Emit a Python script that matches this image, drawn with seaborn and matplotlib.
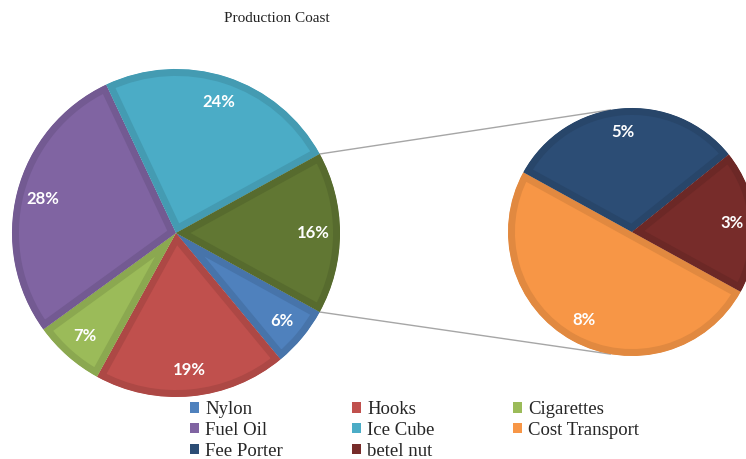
import numpy as np
import matplotlib
matplotlib.use("Agg")
import matplotlib.pyplot as plt
import matplotlib.colors as mcolors
from matplotlib.patches import Patch
import seaborn as sns

# Main pie: the last slice groups the three minor costs shown in the side pie
main_labels = ["Nylon", "Hooks", "Cigarettes", "Fuel Oil", "Ice Cube", "Other"]
main_values = [6, 19, 7, 28, 24, 16]
main_colors = ["#4F81BD", "#C0504D", "#9BBB59", "#8064A2", "#4BACC6", "#617733"]

# Breakdown of the grouped slice
sub_labels = ["Cost Transport", "Fee Porter", "betel nut"]
sub_values = [8, 5, 3]
sub_colors = ["#F79646", "#2C4D75", "#772C2A"]

legend_columns = [
    ["Nylon", "Fuel Oil", "Fee Porter"],
    ["Hooks", "Ice Cube", "betel nut"],
    ["Cigarettes", "Cost Transport"],
]

sns.set_theme(style="white")
plt.rcParams["font.family"] = ["DejaVu Sans"]

W, H = 746, 459
fig = plt.figure(figsize=(W / 100, H / 100), dpi=100)
ax = fig.add_axes([0, 0, 1, 1])


def darker(c, k=0.86):
    r, g, b = mcolors.to_rgb(c)
    return (r * k, g * k, b * k)


def inset_border(wedge_list, colors, k):
    # Stroke each wedge twice as wide and clip it to the wedge itself,
    # so the darker rim sits inside the slice.
    for w, c in zip(wedge_list, colors):
        w.set_edgecolor(darker(c, k))
        w.set_clip_on(True)
        w.set_clip_path(w)


total = sum(main_values)
other_frac = main_values[-1] / total
start = 360 - 180 * other_frac  # grouped slice centred on the right-hand side

label_font = dict(color="white", fontweight="bold", fontsize=12, family="Lato")

main_center = (176, H - 233)
main_r = 164
wedges, _, _ = ax.pie(
    main_values, colors=main_colors, startangle=start, counterclock=False,
    center=main_center, radius=main_r, autopct="%.0f%%", pctdistance=0.84,
    textprops=label_font, frame=True,
    wedgeprops=dict(linewidth=10),
)
inset_border(wedges, main_colors, 0.9)

sub_center = (632, H - 232)
sub_r = 124
sub_total = sum(sub_values)
sub_wedges, _, _ = ax.pie(
    sub_values, colors=sub_colors, startangle=start, counterclock=False,
    center=sub_center, radius=sub_r,
    autopct=lambda p: f"{p * sub_total / 100:.0f}%", pctdistance=0.81,
    textprops=label_font, frame=True,
    wedgeprops=dict(linewidth=10),
)
inset_border(sub_wedges, sub_colors, 0.91)

# Connector lines from the grouped slice to the side pie
half = np.deg2rad(180 * other_frac)
for a_main, a_sub in [(half, np.deg2rad(100)), (-half, np.deg2rad(260))]:
    x0 = main_center[0] + main_r * np.cos(a_main)
    y0 = main_center[1] + main_r * np.sin(a_main)
    x1 = sub_center[0] + sub_r * np.cos(a_sub)
    y1 = sub_center[1] + sub_r * np.sin(a_sub)
    ax.plot([x0, x1], [y0, y1], color="#A6A6A6", linewidth=1.0, zorder=0)

ax.set_xlim(0, W)
ax.set_ylim(0, H)
ax.set_aspect("equal")
ax.axis("off")

fig.text(277 / W, 1 - 19 / H, "Production Coast", ha="center", va="center",
         family="Liberation Serif", fontsize=11, color="#222222")

color_of = dict(zip(main_labels + sub_labels, main_colors + sub_colors))
col_x = [190, 352, 513]
for x, names in zip(col_x, legend_columns):
    handles = [Patch(facecolor=color_of[n], edgecolor="none") for n in names]
    fig.legend(handles, names, loc="upper left",
               bbox_to_anchor=(x / W, 1 - 401 / H), frameon=False,
               handlelength=0.48, handleheight=0.48, handletextpad=0.32,
               labelspacing=0.2, borderpad=0, borderaxespad=0,
               prop=dict(family="Liberation Serif", size=13.5))

fig.savefig("out.png", dpi=100, facecolor="white")
